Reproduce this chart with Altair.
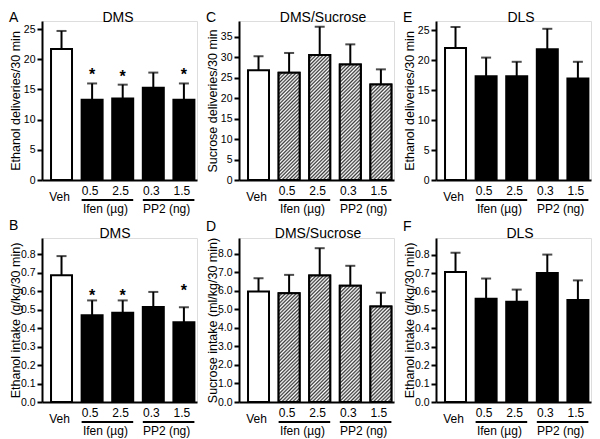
import altair as alt
import pandas as pd

cats = ["Veh", "0.5", "2.5", "0.3", "1.5"]
group_names = ["Ifen (µg)", "PP2 (ng)"]
group_start = ["0.5", "0.3"]
group_end = ["2.5", "1.5"]

# Panel A: DMS ethanol deliveries
a_mean = [21.7, 13.3, 13.5, 15.3, 13.3]
a_err = [3.0, 2.7, 2.3, 2.5, 2.7]
a_star_cats = ["0.5", "2.5", "1.5"]
a_star_y = [18.1, 17.8, 18.1]
a_ticks = [0, 5, 10, 15, 20, 25]

# Panel B: DMS ethanol intake
b_mean = [0.686, 0.470, 0.483, 0.515, 0.432]
b_err = [0.104, 0.080, 0.067, 0.081, 0.081]
b_star_cats = ["0.5", "2.5", "1.5"]
b_star_y = [0.596, 0.596, 0.623]
b_ticks = [0.0, 0.1, 0.2, 0.3, 0.4, 0.5, 0.6, 0.7, 0.8]

# Panel C: DMS/Sucrose deliveries
c_mean = [26.8, 26.2, 30.5, 28.2, 23.3]
c_err = [3.4, 4.8, 6.9, 4.9, 3.7]
c_ticks = [0, 5, 10, 15, 20, 25, 30, 35]

# Panel D: DMS/Sucrose intake
d_mean = [5.96, 5.87, 6.83, 6.27, 5.15]
d_err = [0.72, 0.99, 1.47, 1.08, 0.75]
d_ticks = [0.0, 1.0, 2.0, 3.0, 4.0, 5.0, 6.0, 7.0, 8.0]

# Panel E: DLS ethanol deliveries
e_mean = [22.0, 17.3, 17.3, 21.8, 16.9]
e_err = [3.5, 3.1, 2.4, 3.4, 2.8]
e_ticks = [0, 5, 10, 15, 20, 25]

# Panel F: DLS ethanol intake
f_mean = [0.705, 0.560, 0.544, 0.700, 0.553]
f_err = [0.105, 0.110, 0.066, 0.100, 0.107]
f_ticks = [0.0, 0.1, 0.2, 0.3, 0.4, 0.5, 0.6, 0.7, 0.8]

kinds_solid = ["open", "solid", "solid", "solid", "solid"]
kinds_hatch = ["open", "hatch", "hatch", "hatch", "hatch"]

W = 155
BAR_W = 21


def hatch(h_px, w_px=BAR_W, period=3.6):
    # soft diagonal stripes ("////") drawn as a linear gradient over the bar box
    L = w_px + h_px
    a = L / (w_px ** 2 + h_px ** 2)
    n = max(1, round(L / period))
    stops = []
    for k in range(n):
        stops += [
            {"offset": k / n, "color": "#3a3a3a"},
            {"offset": (k + 0.5) / n, "color": "#ffffff"},
        ]
    stops.append({"offset": 1.0, "color": "#3a3a3a"})
    return alt.LinearGradient(gradient="linear", x1=0, y1=0, x2=a * w_px, y2=a * h_px, stops=stops)


def panel(mean, err, kinds, ymax, ticks, fmt, ytitle, title, title_x, title_y,
          letter, letter_y, H, star_cats=None, star_y=None):
    df = pd.DataFrame({
        "cat": cats,
        "mean": mean,
        "top": [m + e for m, e in zip(mean, err)],
        "kind": kinds,
    })
    xscale = alt.Scale(domain=cats, paddingInner=0.314, paddingOuter=0.19, align=0.776)
    xaxis = alt.Axis(title=None, labels=False, ticks=False, domainWidth=2, domainColor="black")
    xenc = alt.X("cat:N", scale=xscale, axis=xaxis)
    yscale = alt.Scale(domain=[0, ymax], nice=False, zero=True)
    yaxis = alt.Axis(values=ticks, format=fmt, title=ytitle, grid=False,
                     titleX=-23, titleY=H / 2, titleBaseline="alphabetic")
    base = alt.Chart(df)
    layers = []
    layers.append(base.mark_bar(stroke="black", strokeWidth=2).encode(
        x=xenc,
        y=alt.Y("mean:Q", scale=yscale, axis=yaxis),
        fill=alt.Fill("kind:N", scale=alt.Scale(domain=["open", "solid", "hatch"],
                                                range=["white", "black", "white"]), legend=None),
    ))
    for c, m, k in zip(cats, mean, kinds):
        if k == "hatch":
            h_px = m / ymax * H
            layers.append(base.transform_filter(alt.datum.cat == c).mark_bar(
                stroke="black", strokeWidth=2, fill=hatch(h_px)).encode(
                x=xenc, y=alt.Y("mean:Q", scale=yscale, axis=yaxis)))
    layers.append(base.mark_rule(strokeWidth=2, color="black").encode(
        x=xenc, y=alt.Y("mean:Q", scale=yscale, axis=yaxis), y2="top:Q"))
    layers.append(base.mark_tick(size=10, thickness=2, color="black").encode(
        x=xenc, y=alt.Y("top:Q", scale=yscale, axis=yaxis)))
    if star_cats:
        sdf = pd.DataFrame({"cat": star_cats, "sy": star_y})
        layers.append(alt.Chart(sdf).mark_text(text="*", fontSize=16, fontWeight="bold",
                                               baseline="alphabetic", dy=9, color="black").encode(
            x=xenc, y=alt.Y("sy:Q", scale=yscale, axis=yaxis)))
    # dose labels
    ddf = pd.DataFrame({"cat": cats[1:]})
    layers.append(alt.Chart(ddf).mark_text(fontSize=12, baseline="alphabetic", dx=-2, color="black").encode(
        x=xenc, y=alt.value(H + 15), text="cat:N"))
    vdf = pd.DataFrame({"cat": cats[:1]})
    layers.append(alt.Chart(vdf).mark_text(fontSize=12, baseline="alphabetic", dx=-2, color="black").encode(
        x=xenc, y=alt.value(H + 21), text="cat:N"))
    gdf = pd.DataFrame({"name": group_names, "start": group_start, "end": group_end})
    layers.append(alt.Chart(gdf).mark_rule(strokeWidth=2, color="black").encode(
        x=alt.X("start:N", scale=xscale, axis=xaxis, bandPosition=0),
        x2=alt.X2("end:N", bandPosition=1),
        y=alt.value(H + 20)))
    layers.append(alt.Chart(gdf).mark_text(fontSize=12, baseline="alphabetic", dx=13.3, color="black").encode(
        x=alt.X("start:N", scale=xscale, axis=xaxis), y=alt.value(H + 33), text="name:N"))
    tdf = pd.DataFrame({"t": [title]})
    layers.append(alt.Chart(tdf).mark_text(fontSize=14, baseline="alphabetic", align="center", color="black").encode(
        x=alt.value(title_x), y=alt.value(title_y), text="t:N"))
    ldf = pd.DataFrame({"t": [letter]})
    layers.append(alt.Chart(ldf).mark_text(fontSize=14, baseline="alphabetic", align="left", color="black").encode(
        x=alt.value(-33), y=alt.value(letter_y), text="t:N"))
    return alt.layer(*layers).properties(width=W, height=H)


HT = 159
HB = 164

pA = panel(a_mean, a_err, kinds_solid, 26.35, a_ticks, "d", "Ethanol deliveries/30 min",
           "DMS", 76, 1, "A", 1, HT, a_star_cats, a_star_y)
pC = panel(c_mean, c_err, kinds_hatch, 38.8, c_ticks, "d", "Sucrose deliveries/30 min",
           "DMS/Sucrose", 84, 1, "C", 1, HT)
pE = panel(e_mean, e_err, kinds_solid, 26.5, e_ticks, "d", "Ethanol deliveries/30 min",
           "DLS", 85, 1, "E", 1, HT)
pB = panel(b_mean, b_err, kinds_solid, 0.888, b_ticks, ".1f", "Ethanol intake (g/kg/30 min)",
           "DMS", 73, 0, "B", -8, HB, b_star_cats, b_star_y)
pD = panel(d_mean, d_err, kinds_hatch, 8.85, d_ticks, ".1f", "Sucrose intake (ml/kg/30 min)",
           "DMS/Sucrose", 79, 0, "D", -7, HB)
pF = panel(f_mean, f_err, kinds_solid, 0.89, f_ticks, ".1f", "Ethanol intake (g/kg/30 min)",
           "DLS", 84, 0, "F", -7, HB)

chart = alt.concat(pA, pC, pE, pB, pD, pF, columns=3,
                   spacing={"row": 58, "column": 42}, bounds="flush").properties(
    padding={"top": 2, "left": 0, "right": 0, "bottom": 0}
).configure_view(stroke=None).configure(font="Liberation Sans").configure_axis(
    labelFont="Liberation Sans", titleFont="Liberation Sans", labelFontSize=10.5,
    titleFontSize=12.5, titleFontWeight="normal", labelColor="black", titleColor="black",
    domainColor="black", domainWidth=2, tickColor="black", tickWidth=2, tickSize=5,
    labelPadding=2,
).configure_text(font="Liberation Sans")

chart.save("out.html", embed_options={"renderer": "svg", "actions": False})
